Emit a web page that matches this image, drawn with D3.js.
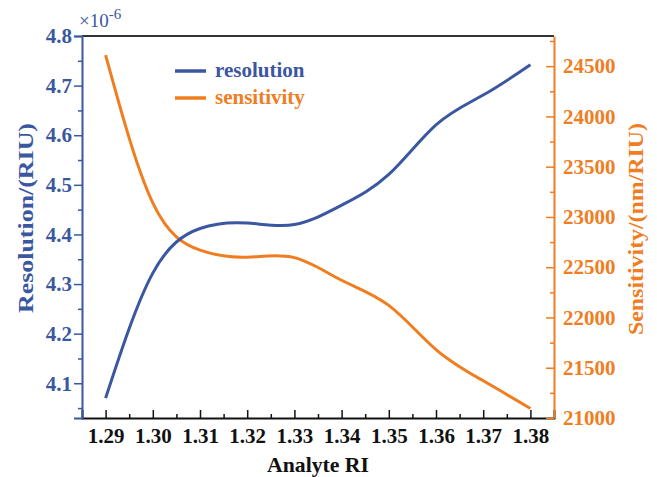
<!DOCTYPE html>
<html>
<head>
<meta charset="utf-8">
<script src="https://cdn.jsdelivr.net/npm/d3@7"></script>
<style>
  html, body { margin: 0; padding: 0; background: #fff; }
  svg { display: block; }
  svg text { font-family: "Liberation Serif", "Times New Roman", serif !important; font-weight: bold; }
</style>
</head>
<body>
<svg id="chart" width="657" height="477"></svg>
<script>
// Analyte refractive index samples
const analyteRI = [1.29, 1.30, 1.31, 1.32, 1.33, 1.34, 1.35, 1.36, 1.37, 1.38];
// Resolution (×10^-6 RIU)
const resolution = [4.070, 4.322, 4.412, 4.423, 4.420, 4.459, 4.521, 4.621, 4.681, 4.742];
// Sensitivity (nm/RIU)
const sensitivity = [24610, 23140, 22670, 22600, 22595, 22370, 22120, 21680, 21370, 21095];

const xTicks = [1.29, 1.30, 1.31, 1.32, 1.33, 1.34, 1.35, 1.36, 1.37, 1.38];
const leftTicks = [4.1, 4.2, 4.3, 4.4, 4.5, 4.6, 4.7, 4.8];
const rightTicks = [21000, 21500, 22000, 22500, 23000, 23500, 24000, 24500];

const BLUE = "#3b57a0";
const ORANGE = "#f07d1f";
const TICK_FONT = 21;

const svg = d3.select("#chart");
const L = 82, R = 554, T = 36, B = 418;

const x = d3.scaleLinear().domain([1.285, 1.385]).range([L, R]);
const yL = d3.scaleLinear().domain([4.03, 4.8]).range([B, T]);
const yR = d3.scaleLinear().domain([21000, 24800]).range([B, T]);

function styleLabels(sel, color) {
  sel.selectAll(".tick text")
    .attr("fill", color)
    .style("font-size", TICK_FONT + "px")
    .style("font-weight", "bold")
    .style("font-family", "'Liberation Serif', serif");
}

// top frame line
svg.append("line").attr("x1", L).attr("x2", R).attr("y1", T).attr("y2", T)
  .attr("stroke", "#333").attr("stroke-width", 2);

// bottom axis: ticks point inward, labels below
const xMinor = d3.range(1.295, 1.38, 0.01);
const gx = svg.append("g").attr("transform", `translate(0,${B})`)
  .call(d3.axisTop(x).tickValues(xTicks).tickSize(8).tickFormat(""));
gx.selectAll(".tick line").attr("stroke", "#111").attr("stroke-width", 1.5);
gx.select(".domain").attr("stroke", "#111").attr("stroke-width", 2);
const gxMinor = svg.append("g").attr("transform", `translate(0,${B})`)
  .call(d3.axisTop(x).tickValues(xMinor).tickSize(4).tickFormat(""));
gxMinor.select(".domain").remove();
gxMinor.selectAll(".tick line").attr("stroke", "#111").attr("stroke-width", 1.5);
const gxLab = svg.append("g").attr("transform", `translate(0,${B})`)
  .call(d3.axisBottom(x).tickValues(xTicks).tickSize(0).tickPadding(10).tickFormat(d3.format(".2f")));
gxLab.select(".domain").remove();
styleLabels(gxLab, "#111");

// left axis: ticks point outward
const leftMinor = d3.range(4.05, 4.8, 0.1);
const gl = svg.append("g").attr("transform", `translate(${L},0)`)
  .call(d3.axisLeft(yL).tickValues(leftTicks).tickSize(8).tickPadding(2).tickFormat(d3.format(".1f")));
gl.select(".domain").attr("stroke", BLUE).attr("stroke-width", 2);
gl.selectAll(".tick line").attr("stroke", BLUE).attr("stroke-width", 1.5);
styleLabels(gl, BLUE);
const glMinor = svg.append("g").attr("transform", `translate(${L},0)`)
  .call(d3.axisLeft(yL).tickValues(leftMinor).tickSize(4).tickFormat(""));
glMinor.select(".domain").remove();
glMinor.selectAll(".tick line").attr("stroke", BLUE).attr("stroke-width", 1.5);

// right axis: ticks point inward, labels outside
const rightMinor = d3.range(21250, 24800, 500);
const gr = svg.append("g").attr("transform", `translate(${R},0)`)
  .call(d3.axisRight(yR).tickValues(rightTicks).tickSize(0).tickPadding(9).tickFormat(d3.format("d")));
gr.select(".domain").attr("stroke", ORANGE).attr("stroke-width", 2);
styleLabels(gr, ORANGE);
const grIn = svg.append("g").attr("transform", `translate(${R},0)`)
  .call(d3.axisLeft(yR).tickValues(rightTicks).tickSize(8).tickFormat(""));
grIn.select(".domain").remove();
grIn.selectAll(".tick line").attr("stroke", ORANGE).attr("stroke-width", 1.5);
const grMinor = svg.append("g").attr("transform", `translate(${R},0)`)
  .call(d3.axisLeft(yR).tickValues(rightMinor).tickSize(4).tickFormat(""));
grMinor.select(".domain").remove();
grMinor.selectAll(".tick line").attr("stroke", ORANGE).attr("stroke-width", 1.5);

// series curves
const resLine = d3.line().x((d, i) => x(analyteRI[i])).y(d => yL(d)).curve(d3.curveNatural);
const senLine = d3.line().x((d, i) => x(analyteRI[i])).y(d => yR(d)).curve(d3.curveNatural);
svg.append("path").datum(sensitivity).attr("d", senLine)
  .attr("fill", "none").attr("stroke", ORANGE).attr("stroke-width", 3);
svg.append("path").datum(resolution).attr("d", resLine)
  .attr("fill", "none").attr("stroke", BLUE).attr("stroke-width", 3);

// legend
const legend = [
  { name: "resolution", color: BLUE, y: 71 },
  { name: "sensitivity", color: ORANGE, y: 98 }
];
const lg = svg.append("g");
lg.selectAll("line").data(legend).join("line")
  .attr("x1", 175).attr("x2", 206).attr("y1", d => d.y).attr("y2", d => d.y)
  .attr("stroke", d => d.color).attr("stroke-width", 3.5);
lg.selectAll("text").data(legend).join("text")
  .attr("x", 215).attr("y", d => d.y + 6)
  .style("font-size", "21px").attr("fill", d => d.color)
  .text(d => d.name);

// exponent marker for left axis
const ex = svg.append("text").attr("x", 79).attr("y", 27)
  .style("font-size", "19px").style("font-weight", "normal").attr("fill", BLUE);
ex.append("tspan").text("×10");
ex.append("tspan").attr("dy", -8).style("font-size", "15px").text("-6");

// axis titles
svg.append("text").attr("x", 318).attr("y", 472)
  .attr("text-anchor", "middle").style("font-size", "21px").attr("fill", "#111")
  .attr("textLength", 102).attr("lengthAdjust", "spacingAndGlyphs")
  .text("Analyte RI");
svg.append("text")
  .attr("transform", "translate(33,218) rotate(-90)")
  .attr("text-anchor", "middle").style("font-size", "22px").attr("fill", BLUE)
  .attr("textLength", 190).attr("lengthAdjust", "spacingAndGlyphs")
  .text("Resolution/(RIU)");
svg.append("text")
  .attr("transform", "translate(643,229) rotate(-90)")
  .attr("text-anchor", "middle").style("font-size", "21px").attr("fill", ORANGE)
  .attr("textLength", 212).attr("lengthAdjust", "spacingAndGlyphs")
  .text("Sensitivity/(nm/RIU)");
</script>
</body>
</html>
